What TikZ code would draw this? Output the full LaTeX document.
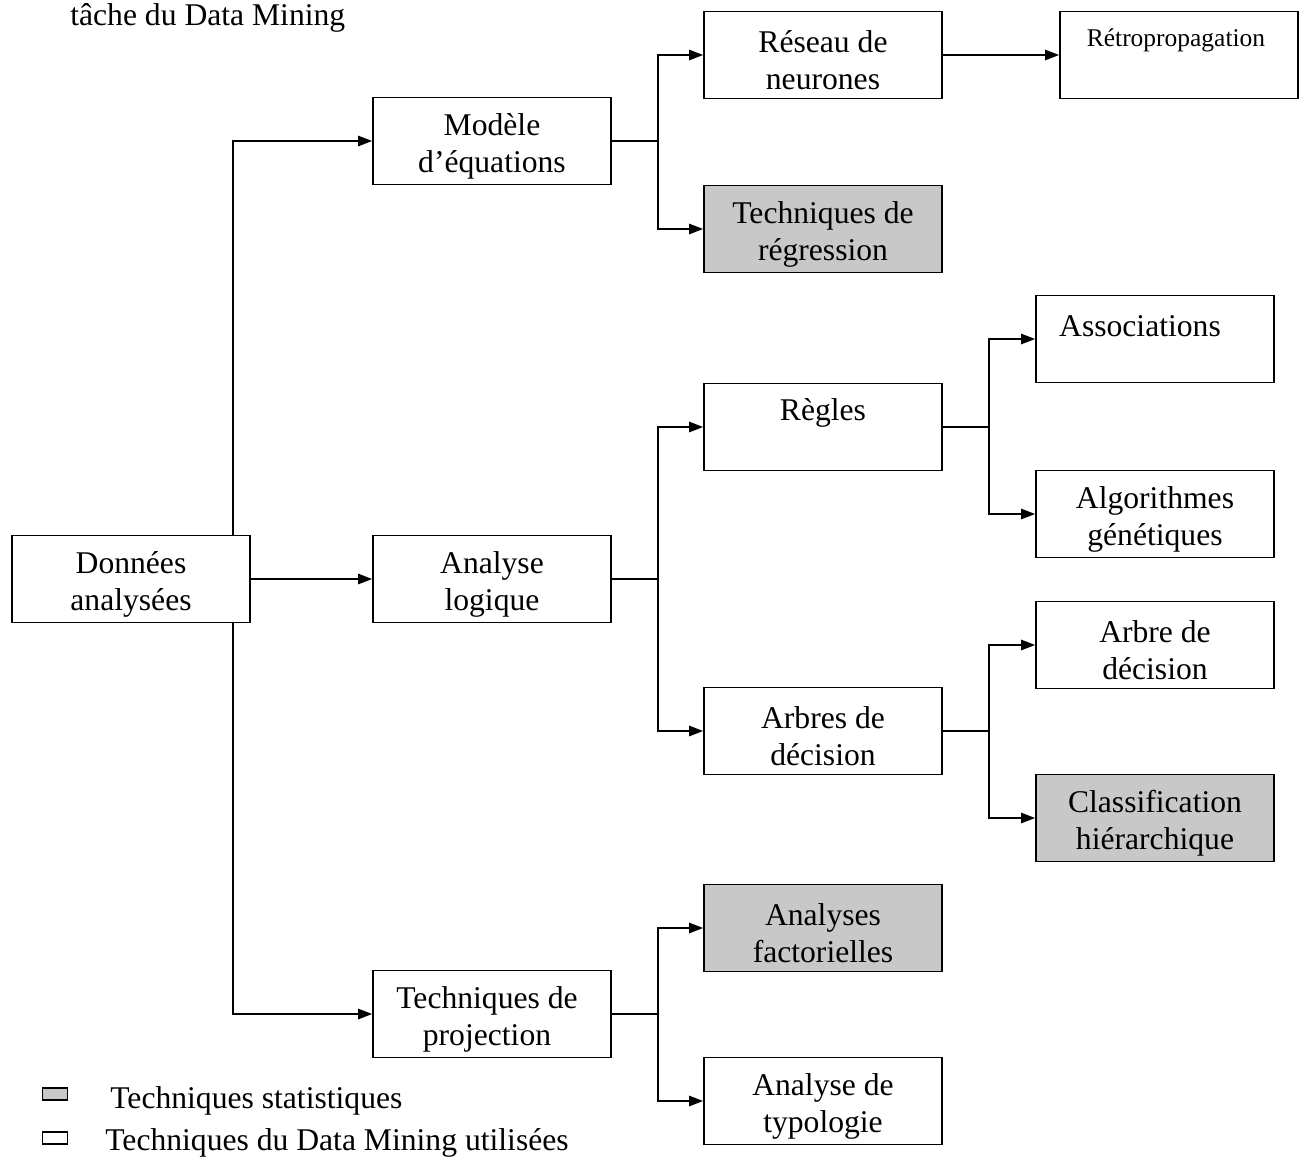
\documentclass[tikz,border=0pt]{standalone}
\usepackage{fontspec}
\setmainfont{Liberation Serif}
\usetikzlibrary{arrows.meta}
\definecolor{statgray}{RGB}{200,200,200}
\tikzset{
  box/.style={draw, line width=1.1pt, minimum width=4.76cm, minimum height=1.74cm, inner sep=0pt},
  statbox/.style={box, fill=statgray},
  boxtext/.style={inner sep=0pt, align=center, font=\fontsize{18}{21}\selectfont},
  smalltext/.style={boxtext, font=\fontsize{14.5}{17}\selectfont},
  link/.style={line width=0.8pt},
  arrow/.style={link, -{Triangle[length=8pt,width=6pt]}},
  legendtext/.style={anchor=base west, inner sep=0pt, font=\fontsize{18}{21}\selectfont},
  legendbox/.style={draw, line width=0.9pt, minimum width=0.5cm, minimum height=0.24cm, inner sep=0pt}
}
\begin{document}
\begin{tikzpicture}[x=0.02cm, y=-0.02cm]
\useasboundingbox (0,0) rectangle (1303,1160);
\clip (0,0) rectangle (1303,1160);
\fill[white] (0,0) rectangle (1303,1160);

% heading line
\node[legendtext] (head) at (70,25) {tâche du Data Mining};

% first level
\node[box] (don) at (131,579) {};
\node[box] (mod) at (492,141) {};
\node[box] (ana) at (492,579) {};
\node[box] (proj) at (492,1014) {};

% second level
\node[box] (res) at (823,55) {};
\node[statbox] (reg) at (823,229) {};
\node[box] (reg2) at (823,427) {};
\node[box] (arb) at (823,731) {};
\node[statbox] (fac) at (823,928) {};
\node[box] (typ) at (823,1101) {};

% third level
\node[box] (retro) at (1179,55) {};
\node[box] (assoc) at (1155,339) {};
\node[box] (algo) at (1155,514) {};
\node[box] (arbre) at (1155,645) {};
\node[statbox] (clas) at (1155,818) {};

% box texts
\node[boxtext] (don-t) at ([shift={(0,5)}]don.center) {Données\\analysées};
\node[boxtext] (mod-t) at ([shift={(0,5)}]mod.center) {Modèle\\d’équations};
\node[boxtext] (ana-t) at ([shift={(0,5)}]ana.center) {Analyse\\logique};
\node[boxtext] (proj-t) at ([shift={(-5,5)}]proj.center) {Techniques de\\projection};
\node[boxtext] (res-t) at ([shift={(0,5)}]res.center) {Réseau de\\neurones};
\node[boxtext] (reg-t) at ([shift={(0,5)}]reg.center) {Techniques de\\régression};
\node[boxtext] (reg2-t) at ([shift={(0,-14)}]reg2.center) {Règles};
\node[boxtext] (arb-t) at ([shift={(0,5)}]arb.center) {Arbres de\\décision};
\node[boxtext] (fac-t) at ([shift={(0,5)}]fac.center) {Analyses\\factorielles};
\node[boxtext] (typ-t) at ([shift={(0,5)}]typ.center) {Analyse de\\typologie};
\node[smalltext] (retro-t) at ([shift={(-3,-15)}]retro.center) {Rétropropagation};
\node[boxtext] (assoc-t) at ([shift={(-15,-13)}]assoc.center) {Associations};
\node[boxtext] (algo-t) at ([shift={(0,5)}]algo.center) {Algorithmes\\génétiques};
\node[boxtext] (arbre-t) at ([shift={(0,5)}]arbre.center) {Arbre de\\décision};
\node[boxtext] (clas-t) at ([shift={(0,5)}]clas.center) {Classification\\hiérarchique};

% connectors from the data
\draw[arrow] ([xshift=-0.36cm]don.north east) |- (mod.west);
\draw[arrow] (don.east) -- (ana.west);
\draw[arrow] ([xshift=-0.36cm]don.south east) |- (proj.west);

% branches
\draw[link] (mod.east) -- ++(46,0) coordinate (b1);
\draw[arrow] (b1) |- (res.west);
\draw[arrow] (b1) |- (reg.west);
\draw[arrow] (res.east) -- (retro.west);

\draw[link] (ana.east) -- ++(46,0) coordinate (b2);
\draw[arrow] (b2) |- (reg2.west);
\draw[arrow] (b2) |- (arb.west);

\draw[link] (reg2.east) -- ++(46,0) coordinate (b3);
\draw[arrow] (b3) |- (assoc.west);
\draw[arrow] (b3) |- (algo.west);

\draw[link] (arb.east) -- ++(46,0) coordinate (b4);
\draw[arrow] (b4) |- (arbre.west);
\draw[arrow] (b4) |- (clas.west);

\draw[link] (proj.east) -- ++(46,0) coordinate (b5);
\draw[arrow] (b5) |- (fac.west);
\draw[arrow] (b5) |- (typ.west);

% legend
\node[legendbox, fill=statgray] (lg1) at (55,1094) {};
\node[legendtext] (lt1) at (110,1108) {Techniques statistiques};
\node[legendbox, fill=white] (lg2) at (55,1138) {};
\node[legendtext] (lt2) at (105,1150) {Techniques du Data Mining utilisées};
\end{tikzpicture}
\end{document}
